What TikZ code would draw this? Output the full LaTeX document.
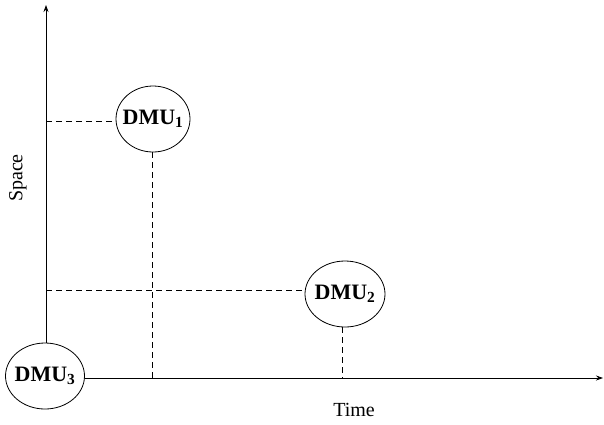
\documentclass[tikz,border=0pt]{standalone}
\usepackage{fontspec}
\setmainfont{Liberation Serif}
\usetikzlibrary{arrows.meta,shapes.geometric}
\tikzset{
  dmu/.style={draw, ellipse, line width=0.8pt, inner sep=0pt,
    minimum width=#1, minimum height=66pt},
  axis/.style={line width=0.8pt, -{Stealth[length=7pt,width=5pt]}},
  guide/.style={line width=0.8pt, dash pattern=on 6pt off 4pt},
  axislabel/.style={font=\fontsize{20}{24}\selectfont}
}
\newcommand{\dmutext}[1]{\makebox[0pt]{\fontsize{22}{24}\selectfont\bfseries DMU\textsubscript{#1}}}
\begin{document}
\begin{tikzpicture}[x=1pt,y=-1pt]
\useasboundingbox (0,0) rectangle (604,424);
% decision making units
\node[dmu=79pt] (d3) at (45,376) {\dmutext{3}};
\node[dmu=74pt] (d1) at (153,119) {\dmutext{1}};
\node[dmu=80pt] (d2) at (345,294) {\dmutext{2}};
% axes
\coordinate (ytop) at (46,5);
\coordinate (xend) at (603,378);
\draw[axis] (d3.north -| ytop) -- (ytop);
\draw[axis] (d3.east |- xend) -- (xend);
% projections onto the axes
\coordinate (y1) at (46,121);
\coordinate (y2) at (46,290);
\coordinate (x1) at (152,378);
\coordinate (x2) at (342,378);
\draw[guide] (y1) -- (d1.west |- y1);
\draw[guide] (d1.south -| x1) -- (x1);
\draw[guide] (y2) -- (d2.west |- y2);
\draw[guide] (d2.south -| x2) -- (x2);
% axis labels
\node[axislabel, rotate=90] (space) at (18,178) {Space};
\node[axislabel] (time) at (354,410) {Time};
\end{tikzpicture}
\end{document}
